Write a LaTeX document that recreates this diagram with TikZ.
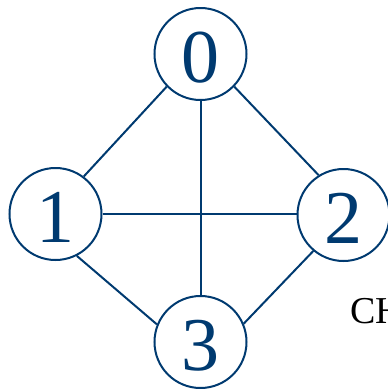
\documentclass[tikz,border=0pt]{standalone}
\usepackage{fontspec}
\setmainfont{Liberation Serif}
\definecolor{navy}{RGB}{0,58,112}
\begin{document}
\begin{tikzpicture}[x=1pt,y=-1pt,
  vert/.style={circle,draw=navy,line width=2pt,minimum size=92pt,inner sep=0pt,
    text=navy,font=\fontsize{76}{76}\selectfont,text height=57pt,text depth=0pt},
  edge/.style={draw=navy,line width=2pt}]
\useasboundingbox (0,0) rectangle (388,389);
\clip (0,0) rectangle (388,389);
\node[vert] (n0) at (200.5,54) {0};
\node[vert] (n1) at (55.5,214) {1};
\node[vert] (n2) at (343.5,215) {2};
\node[vert] (n3) at (200.5,342) {3};
\draw[edge] (n0.224) -- (n1.53);
\draw[edge] (n0.316) -- (n2.122);
\draw[edge] (n0.south) -- (n3.north);
\draw[edge] (n1.east) -- (n2.west |- n1.east);
\draw[edge] (n1.-63) -- (n3.158);
\draw[edge] (n2.230) -- (n3.23);
\node[anchor=base west,inner sep=0pt,font=\fontsize{38}{38}\selectfont] (ch) at (350,323) {CH};
\end{tikzpicture}
\end{document}
